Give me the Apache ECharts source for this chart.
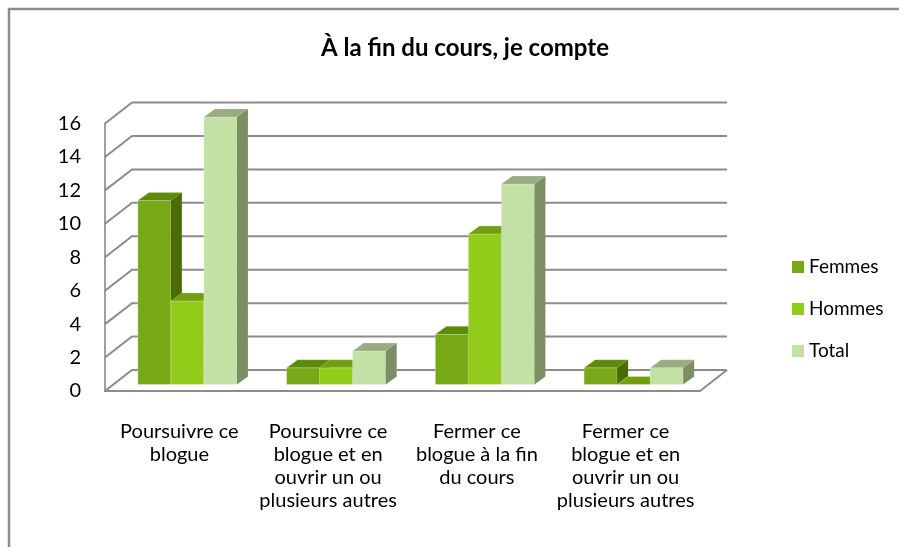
<!DOCTYPE html>
<html>
<head>
<meta charset="utf-8">
<script src="https://cdn.jsdelivr.net/npm/echarts@6/dist/echarts.min.js"></script>
<style>
html,body{margin:0;padding:0;background:#fff;}
#chart{width:899px;height:547px;}
</style>
</head>
<body>
<div id="chart"></div>
<script>
// ---- data ----
var categories = [
  "Poursuivre ce\nblogue",
  "Poursuivre ce\nblogue et en\nouvrir un ou\nplusieurs autres",
  "Fermer ce\nblogue à la fin\ndu cours",
  "Fermer ce\nblogue et en\nouvrir un ou\nplusieurs autres"
];
var seriesNames = ["Femmes", "Hommes", "Total"];
var femmes = [11, 1, 3, 1];
var hommes = [5, 1, 9, 0];
var total = [16, 2, 12, 1];
var yTicks = [0, 2, 4, 6, 8, 10, 12, 14, 16];

// ---- styles ----
var FONT = "Lato, 'Noto Sans', sans-serif";
var palette = [
  {front: "#78a815", top: "#5c8a0b", side: "#4a6c07"},
  {front: "#92cb19", top: "#70a010", side: "#5f8c0c"},
  {front: "#c3e0a5", top: "#97ac80", side: "#7c8f63"}
];
var WALL_DX = 27, WALL_DY = -21;   // depth of the back wall
var BAR_DX = 8, BAR_DY = -6.5;      // position of bars' front face
var DEPTH_DX = 11, DEPTH_DY = -8;   // depth of a bar
var BAR_FRAC = 0.222;               // bar width as fraction of band
var GRID_COLOR = "#8c8c8c";

var chart = echarts.init(document.getElementById("chart"));

function gridRender(params, api) {
  var v = api.value(0);
  var cs = params.coordSys;
  var y = api.coord([0, v])[1];
  var x0 = cs.x, x1 = cs.x + cs.width;
  var children = [{
    type: "polyline",
    shape: {points: [[x0, y], [x0 + WALL_DX, y + WALL_DY], [x1 + WALL_DX, y + WALL_DY]]},
    style: {stroke: GRID_COLOR, lineWidth: 2, fill: null}
  }];
  if (v === 0) {
    children.push({
      type: "line",
      shape: {x1: x1, y1: y, x2: x1 + WALL_DX, y2: y + WALL_DY},
      style: {stroke: GRID_COLOR, lineWidth: 2}
    });
  }
  return {type: "group", children: children};
}

function makeBarRender(si) {
  return function (params, api) {
    var idx = api.value(0), val = api.value(1);
    var c = api.coord([idx, val]);
    var b = api.coord([idx, 0]);
    var bw = api.size([1, 0])[0] * BAR_FRAC;
    var x = c[0] - 1.5 * bw + si * bw + BAR_DX;
    var yt = c[1] + BAR_DY, yb = b[1] + BAR_DY;
    var p = palette[si];
    return {
      type: "group",
      children: [
        {type: "rect", shape: {x: x, y: yt, width: bw, height: yb - yt},
         style: {fill: p.front, stroke: "rgba(255,255,255,0.35)", lineWidth: 0.8}},
        {type: "polygon", shape: {points: [[x, yt], [x + bw, yt], [x + bw + DEPTH_DX, yt + DEPTH_DY], [x + DEPTH_DX, yt + DEPTH_DY]]},
         style: {fill: p.top, stroke: "rgba(255,255,255,0.25)", lineWidth: 0.8}},
        {type: "polygon", shape: {points: [[x + bw, yt], [x + bw + DEPTH_DX, yt + DEPTH_DY], [x + bw + DEPTH_DX, yb + DEPTH_DY], [x + bw, yb]]},
         style: {fill: p.side}}
      ]
    };
  };
}

var seriesData = [femmes, hommes, total];
var series = [{
  type: "custom",
  name: "grid",
  z: 1,
  silent: true,
  renderItem: gridRender,
  encode: {y: 0},
  data: yTicks.map(function (v) { return [v]; })
}];
seriesNames.forEach(function (n, si) {
  series.push({
    type: "custom",
    name: n,
    z: 3 + si,
    renderItem: makeBarRender(si),
    itemStyle: {color: palette[si].front},
    encode: {x: 0, y: 1},
    data: seriesData[si].map(function (v, i) { return [i, v]; })
  });
});

chart.setOption({
  animation: false,
  backgroundColor: "#fff",
  title: {
    text: "À la fin du cours, je compte",
    left: 460, top: 31, textAlign: "center",
    textStyle: {fontFamily: FONT, fontSize: 24, fontWeight: "bold", color: "#000"}
  },
  legend: {
    data: seriesNames,
    orient: "vertical",
    left: 792, top: 257, padding: 0,
    icon: "rect", itemWidth: 12, itemHeight: 12, itemGap: 22,
    textStyle: {fontFamily: FONT, fontSize: 19, color: "#000", lineHeight: 20}
  },
  grid: {left: 105, right: 199, top: 123.5, bottom: 156, containLabel: false},
  xAxis: {
    type: "category",
    data: categories,
    axisLine: {show: true, lineStyle: {color: GRID_COLOR, width: 2}},
    axisTick: {show: false},
    axisLabel: {interval: 0, margin: 29, fontFamily: FONT, fontSize: 20, color: "#000", lineHeight: 23, align: "center"},
    splitLine: {show: false}
  },
  yAxis: {
    type: "value",
    min: 0, max: 16, interval: 2,
    axisLine: {show: true, lineStyle: {color: "#a0a0a0", width: 2}},
    axisTick: {show: false},
    axisLabel: {margin: 24, fontFamily: FONT, fontSize: 20, color: "#000"},
    splitLine: {show: false}
  },
  graphic: [{
    type: "rect",
    shape: {x: 9, y: 9, width: 900, height: 545},
    style: {fill: null, stroke: "#8c8c8c", lineWidth: 2.5},
    silent: true
  }],
  series: series
});
</script>
</body>
</html>
